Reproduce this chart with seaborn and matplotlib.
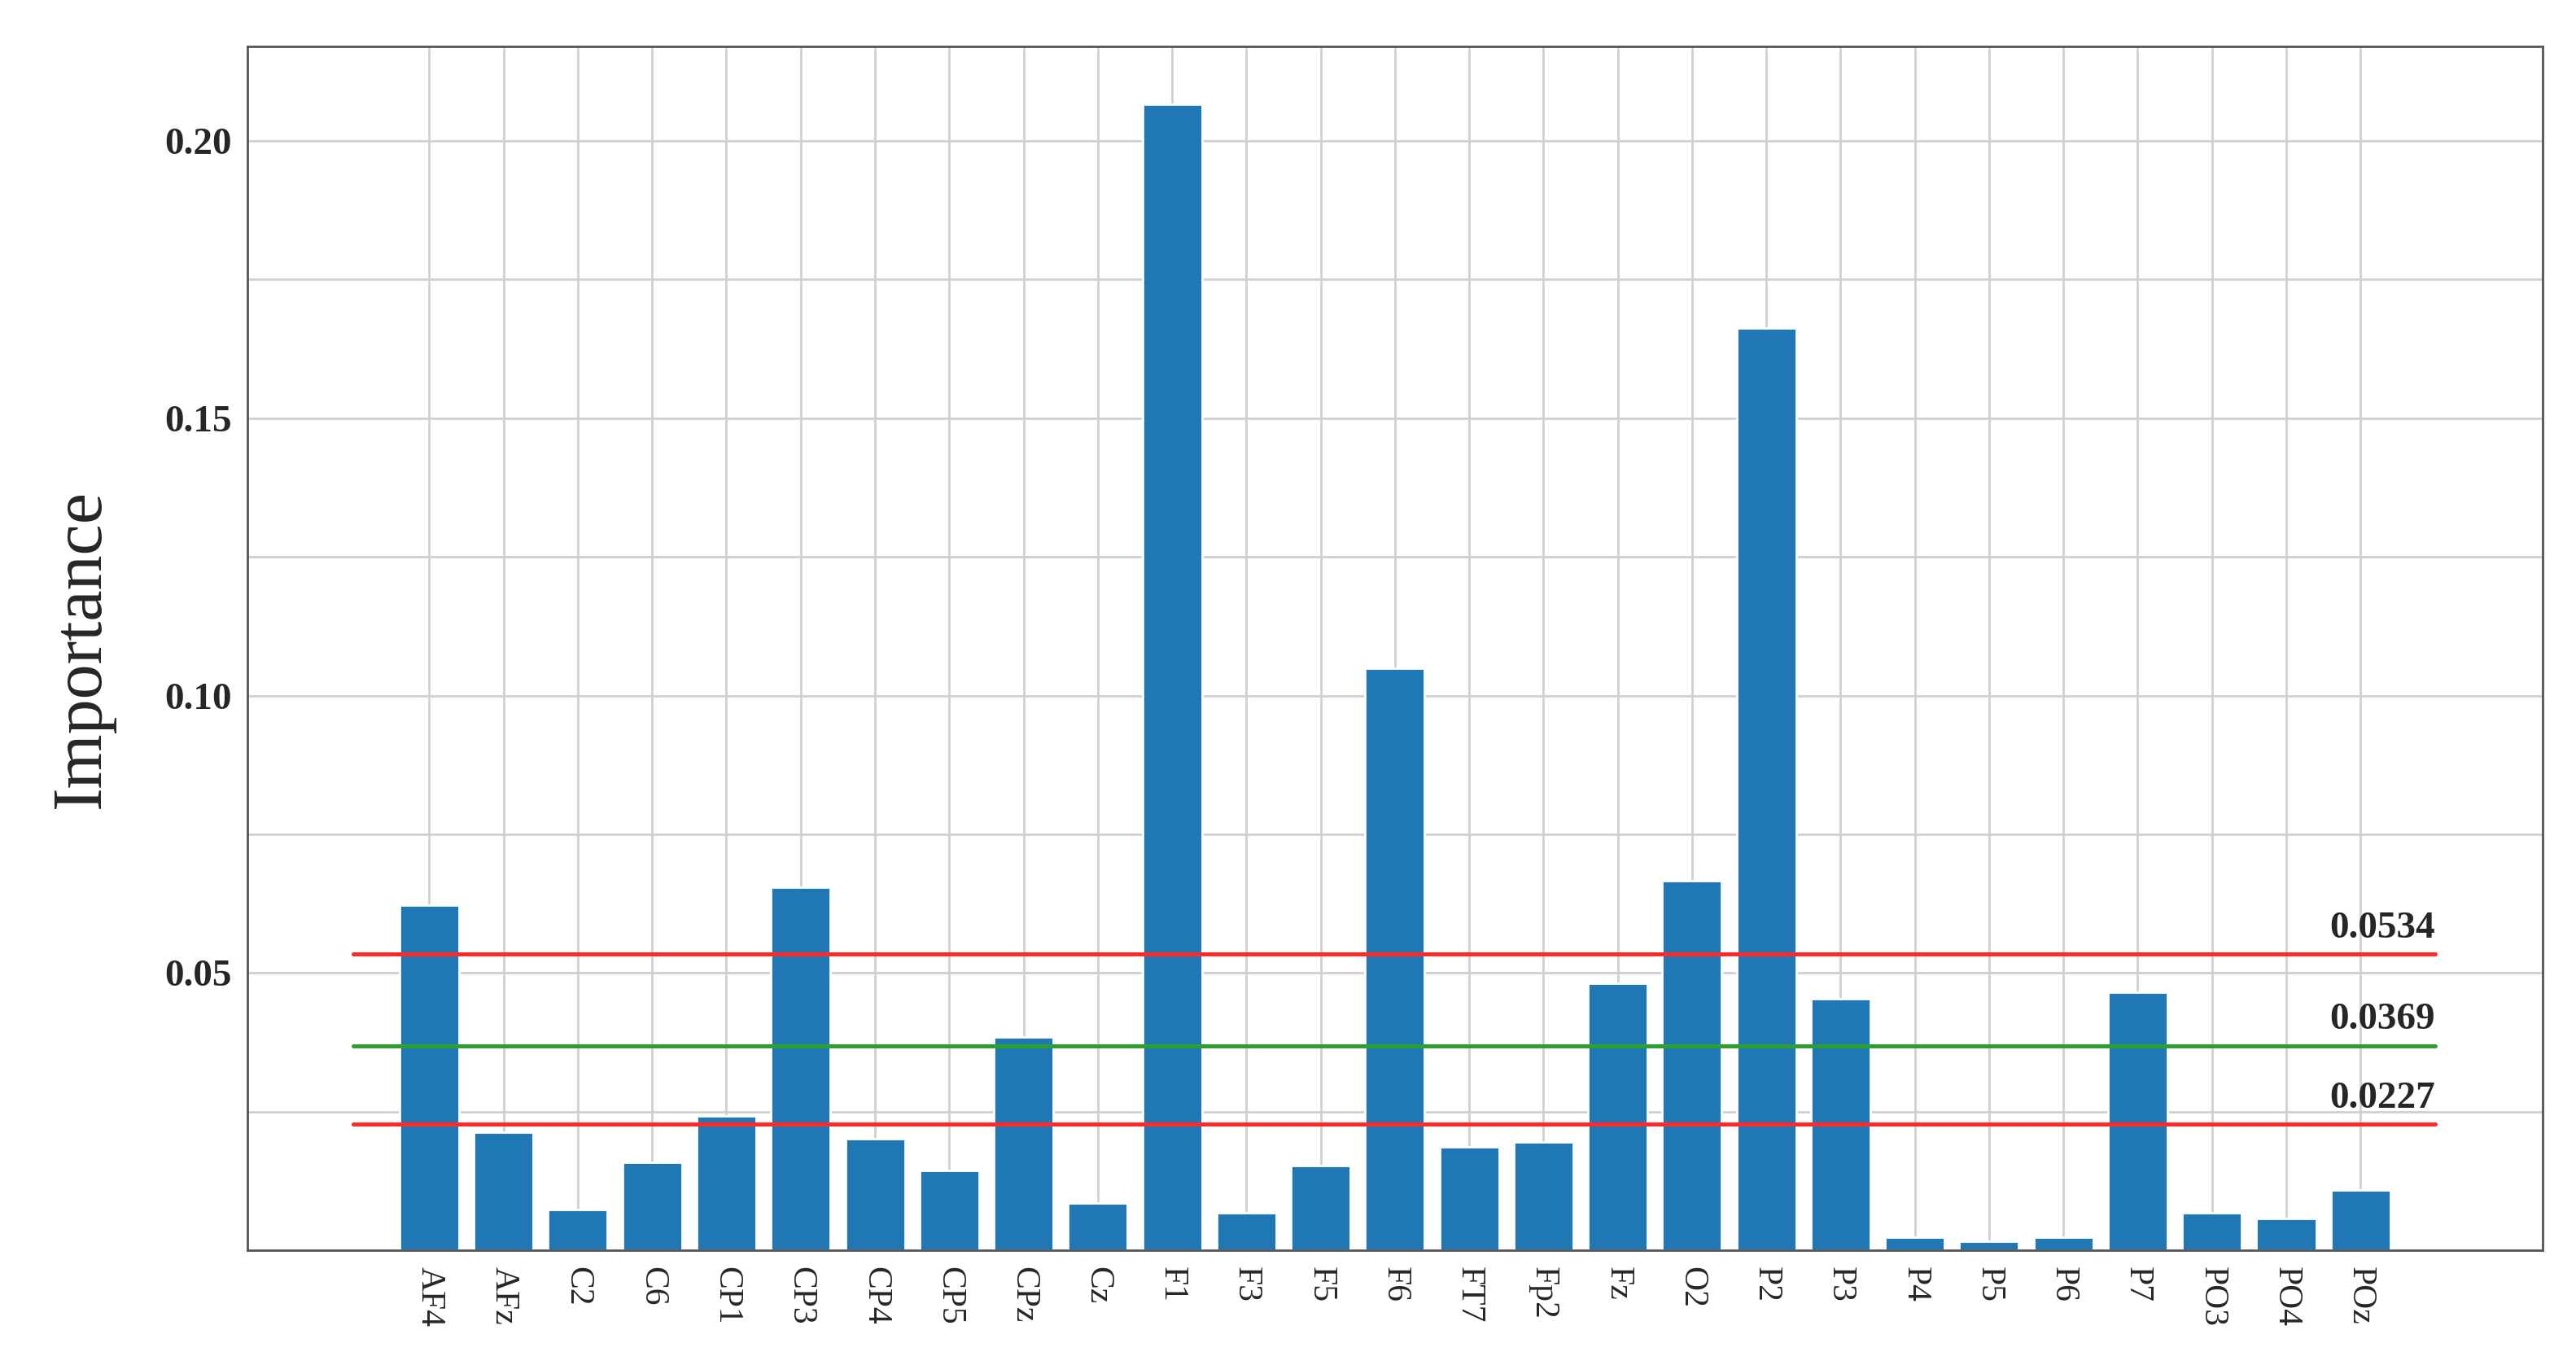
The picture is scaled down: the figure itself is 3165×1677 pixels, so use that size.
import matplotlib
matplotlib.use("Agg")
import matplotlib.pyplot as plt
import seaborn as sns
import pandas as pd
from matplotlib.ticker import MultipleLocator

channels = ["AF4","AFz","C2","C6","CP1","CP3","CP4","CP5","CPz","Cz","F1","F3","F5","F6","FT7",
            "Fp2","Fz","O2","P2","P3","P4","P5","P6","P7","PO3","PO4","POz"]
importance = [0.0622,0.0213,0.0073,0.0159,0.0242,0.0654,0.0201,0.0144,0.0385,0.0085,0.2066,0.0067,
              0.0153,0.1049,0.0186,0.0195,0.0482,0.0666,0.1662,0.0453,0.0023,0.0017,0.0023,0.0465,
              0.0067,0.0058,0.0109]
thresholds = [0.0534, 0.0369, 0.0227]
threshold_colors = ["#ff2a2a", "#2ca02c", "#ff2a2a"]

sns.set_style("whitegrid")
plt.rcParams['font.family'] = ['Liberation Serif', 'DejaVu Serif']

fig = plt.figure(figsize=(15.825, 8.385), dpi=200)
ax = fig.add_axes([0.096, 0.084, 0.891, 0.882])
df = pd.DataFrame({"ch": channels, "imp": importance})
sns.barplot(data=df, x="ch", y="imp", color="#1f77b4", saturation=1, width=0.8, ax=ax, zorder=2)

for t, c in zip(thresholds, threshold_colors):
    ax.plot([-1.02, 27.0], [t, t], color=c, lw=1.8, zorder=3)
    ax.text(27.0, t + 0.0015, f"{t:.4f}", ha="right", va="bottom", fontsize=17, fontweight="bold")

ax.set_xlim(-2.45, 28.45)
ax.set_ylim(0, 0.217)
ax.set_yticks([0.05, 0.10, 0.15, 0.20])
ax.set_yticklabels(["0.05", "0.10", "0.15", "0.20"], fontsize=17, fontweight="bold")
ax.yaxis.set_minor_locator(MultipleLocator(0.025))
ax.grid(True, which="both", color="#d0d0d0", lw=1.0, zorder=0)
ax.set_axisbelow(True)
ax.tick_params(axis="x", labelrotation=-90, labelsize=15)
for lab in ax.get_xticklabels():
    lab.set_ha("center"); lab.set_va("top")
ax.set_xlabel("")
ax.set_ylabel("Importance", fontsize=31, labelpad=22)
for s in ax.spines.values():
    s.set_color("#555555"); s.set_linewidth(1.0)

fig.savefig("out.png", dpi=200)
